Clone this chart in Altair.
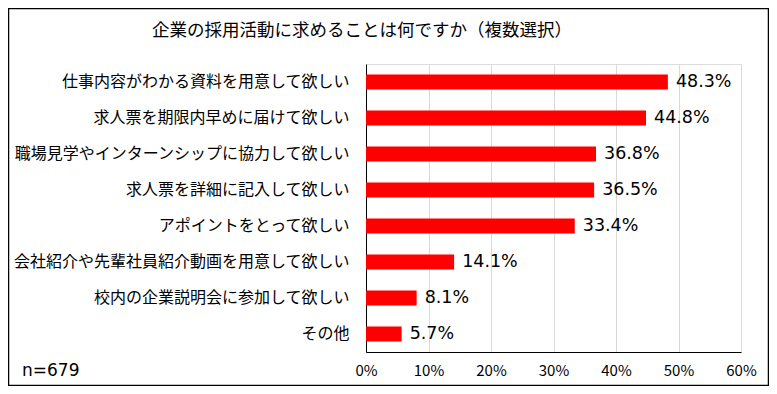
import altair as alt
import pandas as pd

title_text = "企業の採用活動に求めることは何ですか（複数選択）"
categories = [
    "仕事内容がわかる資料を用意して欲しい",
    "求人票を期限内早めに届けて欲しい",
    "職場見学やインターンシップに協力して欲しい",
    "求人票を詳細に記入して欲しい",
    "アポイントをとって欲しい",
    "会社紹介や先輩社員紹介動画を用意して欲しい",
    "校内の企業説明会に参加して欲しい",
    "その他",
]
values = [48.3, 44.8, 36.8, 36.5, 33.4, 14.1, 8.1, 5.7]
n_label = "n=679"
x_ticks = [0, 0.1, 0.2, 0.3, 0.4, 0.5, 0.6]

df = pd.DataFrame({
    "cat": categories,
    "v": [v / 100 for v in values],
    "lab": [f"{v:.1f}%" for v in values],
})

JP = "Noto Sans CJK JP"

y_enc = alt.Y("cat:N", sort=categories, title=None,
              scale=alt.Scale(paddingInner=0.58, paddingOuter=0.29),
              axis=alt.Axis(labelFont=JP, labelFontSize=16, labelColor="#000",
                            labelPadding=17, ticks=False, domainColor="#000",
                            grid=False, labelLimit=400))
x_enc = alt.X("v:Q", title=None,
              scale=alt.Scale(domain=[0, 0.6], nice=False),
              axis=alt.Axis(values=x_ticks, format=".0%", labelFont=JP,
                            labelFontSize=15, labelColor="#000", labelPadding=11,
                            ticks=False, domainColor="#000", grid=True,
                            gridColor="#d9d9d9", labelFlush=False))

bars = alt.Chart(df).mark_bar(color="#ff0000").encode(x=x_enc, y=y_enc)
texts = alt.Chart(df).mark_text(align="left", baseline="middle", dx=8,
                                font="DejaVu Sans", fontSize=17.5, color="#000").encode(
    x="v:Q", y=alt.Y("cat:N", sort=categories), text="lab:N")

n_df = pd.DataFrame({"t": [n_label]})
ntext = alt.Chart(n_df).mark_text(align="left", baseline="middle",
                                  font="DejaVu Sans", fontSize=17, color="#000").encode(
    x=alt.value(-344), y=alt.value(307), text="t:N")

t_df = pd.DataFrame({"t": [title_text]})
ttext = alt.Chart(t_df).mark_text(align="center", baseline="middle",
                                  font=JP, fontSize=17.5, color="#000").encode(
    x=alt.value(-4), y=alt.value(-33), text="t:N")

border = alt.Chart(n_df).mark_rect(fill=None, stroke="#000", strokeWidth=1.5).encode(
    x=alt.value(-357.5), x2=alt.value(402.5), y=alt.value(-55.5), y2=alt.value(321.5))

chart = alt.layer(bars, texts, ntext, ttext, border).properties(
    width=375, height=288,
    autosize=alt.AutoSizeParams(type="none"),
    padding={"left": 358, "top": 56, "right": 28, "bottom": 34},
).configure_view(stroke=None).configure(background="white")

chart.save("out.html", embed_options={"renderer": "svg", "actions": False})
